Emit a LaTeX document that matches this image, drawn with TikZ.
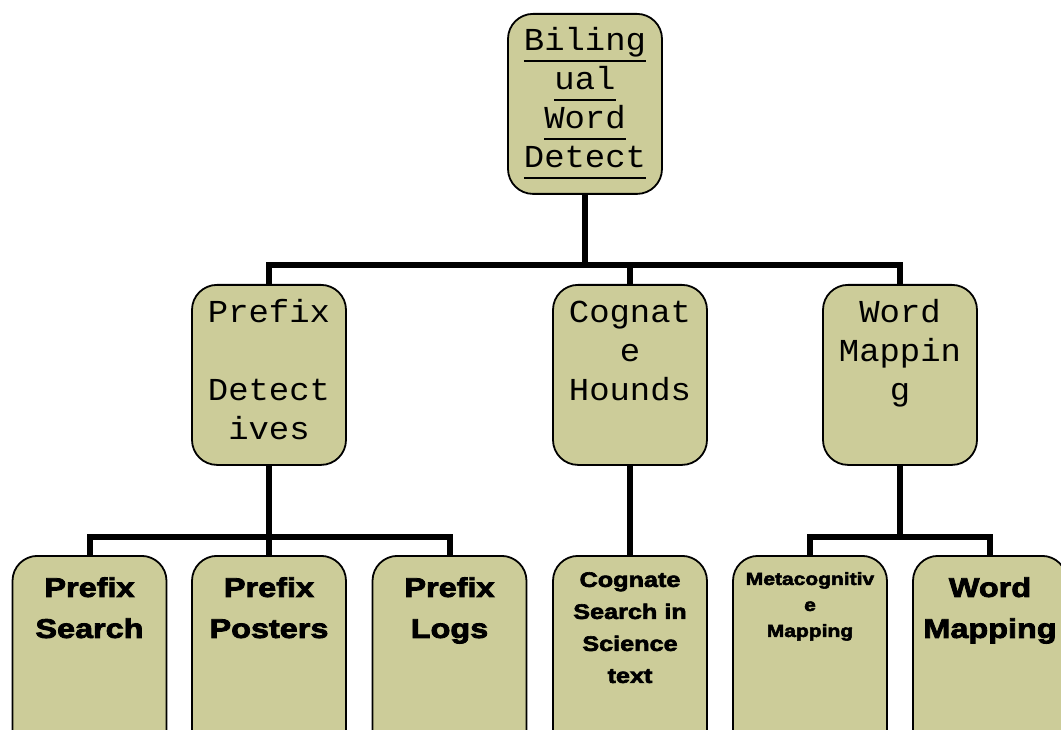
\documentclass[tikz,border=0pt]{standalone}
\usepackage{fontspec}
\newfontfamily\monofont[FakeStretch=1.06]{Liberation Mono}
\newfontfamily\leaffont[FakeStretch=1.2, BoldFeatures={FakeBold=3}]{Liberation Sans}
\definecolor{boxfill}{RGB}{204,204,153}

% box text: height, first baseline, font, lines
\newcommand\boxtext[4]{\parbox[c][#1][t]{154pt}{\centering #3\rule{0pt}{#2}#4}}
\newcommand\rootline[1]{\leavevmode\setbox0\hbox{#1}\rlap{\rule[-11pt]{\wd0}{2.2pt}}\box0}
\newcommand\midfont{\monofont\fontsize{32pt}{39pt}\selectfont}
\newcommand\bigleaf{\leaffont\bfseries\fontsize{27pt}{41pt}\selectfont}

\tikzset{
  wbox/.style={draw=black, line width=1.8pt, fill=boxfill, rounded corners=25pt,
    inner sep=0pt, anchor=north},
  link/.style={line width=6pt}
}

\begin{document}
\begin{tikzpicture}[x=1pt,y=-1pt]
            \useasboundingbox (0,0) rectangle (1061,730);

            % top
            \node[wbox] (root) at (585,13) {\boxtext{180pt}{37pt}{\midfont}{\rootline{Biling}\par\rootline{ual}\par\rootline{Word}\par\rootline{Detect}}};

            % middle row
            \node[wbox] (pdet) at (269,284) {\boxtext{180pt}{38pt}{\midfont}{Prefix\par\vspace{39pt}Detect\par ives}};
            \node[wbox] (cog) at (630,284) {\boxtext{180pt}{38pt}{\midfont}{Cognat\par e\par Hounds}};
            \node[wbox] (wmap) at (900,284) {\boxtext{180pt}{38pt}{\midfont}{Word\par Mappin\par g}};

            % bottom row
            \node[wbox] (psearch) at (89.5,555) {\boxtext{200pt}{41pt}{\bigleaf}{Prefix\par Search}};
            \node[wbox] (pposter) at (269,555) {\boxtext{200pt}{41pt}{\bigleaf}{Prefix\par Posters}};
            \node[wbox] (plogs) at (449.5,555) {\boxtext{200pt}{41pt}{\bigleaf}{Prefix\par Logs}};
            \node[wbox] (csearch) at (630,555) {\boxtext{200pt}{31pt}{\leaffont\bfseries\fontsize{21pt}{32pt}\selectfont}{Cognate\par Search in\par Science\par text}};
            \node[wbox] (meta) at (810,555) {\boxtext{200pt}{29pt}{\leaffont\bfseries\fontsize{17.5pt}{26pt}\selectfont}{Metacognitiv\par e\par Mapping}};
            \node[wbox] (wleaf) at (990,555) {\boxtext{200pt}{41pt}{\bigleaf}{Word\par Mapping}};

            \coordinate (bus1) at (585,265);
            \coordinate (bus2) at (269,537);
            \coordinate (bus3) at (900,537);

            \draw[link] (root.south) -- (bus1);
            \draw[link] (pdet.north) -- (pdet.north |- bus1) -- (wmap.north |- bus1) -- (wmap.north);
            \draw[link] (cog.north) -- (cog.north |- bus1);

            \draw[link] (pdet.south) -- (pposter.north);
            \draw[link] (psearch.north) -- (psearch.north |- bus2) -- (plogs.north |- bus2) -- (plogs.north);
            \draw[link] (cog.south) -- (csearch.north);
            \draw[link] (wmap.south) -- (bus3);
            \draw[link] (meta.north) -- (meta.north |- bus3) -- (wleaf.north |- bus3) -- (wleaf.north);
        \end{tikzpicture}
\end{document}
